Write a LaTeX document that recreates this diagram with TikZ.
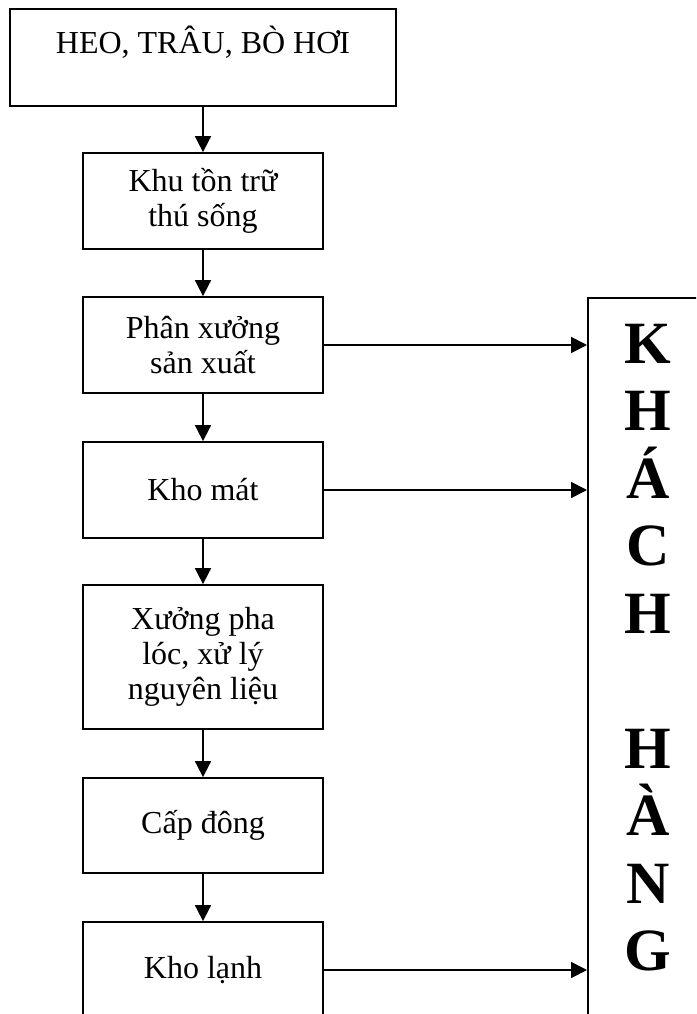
\documentclass[tikz,border=0pt]{standalone}
\usepackage{fontspec}
\setmainfont{Liberation Serif}
\usetikzlibrary{arrows.meta}

\begin{document}
\begin{tikzpicture}[x=1pt, y=-1pt,
    font=\fontsize{32}{35}\selectfont,
    box/.style={draw, line width=1.8pt, align=center, inner sep=0pt},
    arr/.style={line width=1.8pt, -{Triangle[length=16pt, width=16pt]}},
    letter/.style={font=\fontsize{60}{60}\selectfont\bfseries}]
  \useasboundingbox (0,0) rectangle (696,1014);
  \clip (0,0) rectangle (696,1014);
  % stations of the line
  \node[box, minimum width=386pt, minimum height=97pt] (src) at (203,57.5) {HEO, TRÂU, BÒ HƠI\\ \mbox{}};
  \node[box, minimum width=240pt, minimum height=96pt] (khu) at (203,201) {Khu tồn trữ\\thú sống};
  \node[box, minimum width=240pt, minimum height=96pt] (px) at (203,345) {Phân xưởng\\sản xuất};
  \node[box, minimum width=240pt, minimum height=96pt] (khomat) at (203,490) {Kho mát};
  \node[box, minimum width=240pt, minimum height=144pt] (xuong) at (203,657) {Xưởng pha\\lóc, xử lý\\nguyên liệu};
  \node[box, minimum width=240pt, minimum height=95pt] (capdong) at (203,825.5) {Cấp đông};
  \node[box, minimum width=240pt, minimum height=96pt] (kholanh) at (203,970) {Kho lạnh};
  % customer column
  \node[draw, line width=1.6pt, minimum width=130pt, minimum height=740pt, anchor=north west] (khach) at (587,297) {};
  \foreach \ch [count=\i from 0] in {K,H,Á,C,H,{},H,À,N,G}
    \node[letter, anchor=base] (kh\i) at (648,{363+67.5*\i}) {\ch};
  % flow
  \foreach \a/\b in {src/khu, khu/px, px/khomat, khomat/xuong, xuong/capdong, capdong/kholanh}
    \draw[arr] (\a) -- (\b);
  \foreach \n in {px, khomat, kholanh}
    \draw[arr] (\n) -- (\n -| khach.west);
\end{tikzpicture}
\end{document}
